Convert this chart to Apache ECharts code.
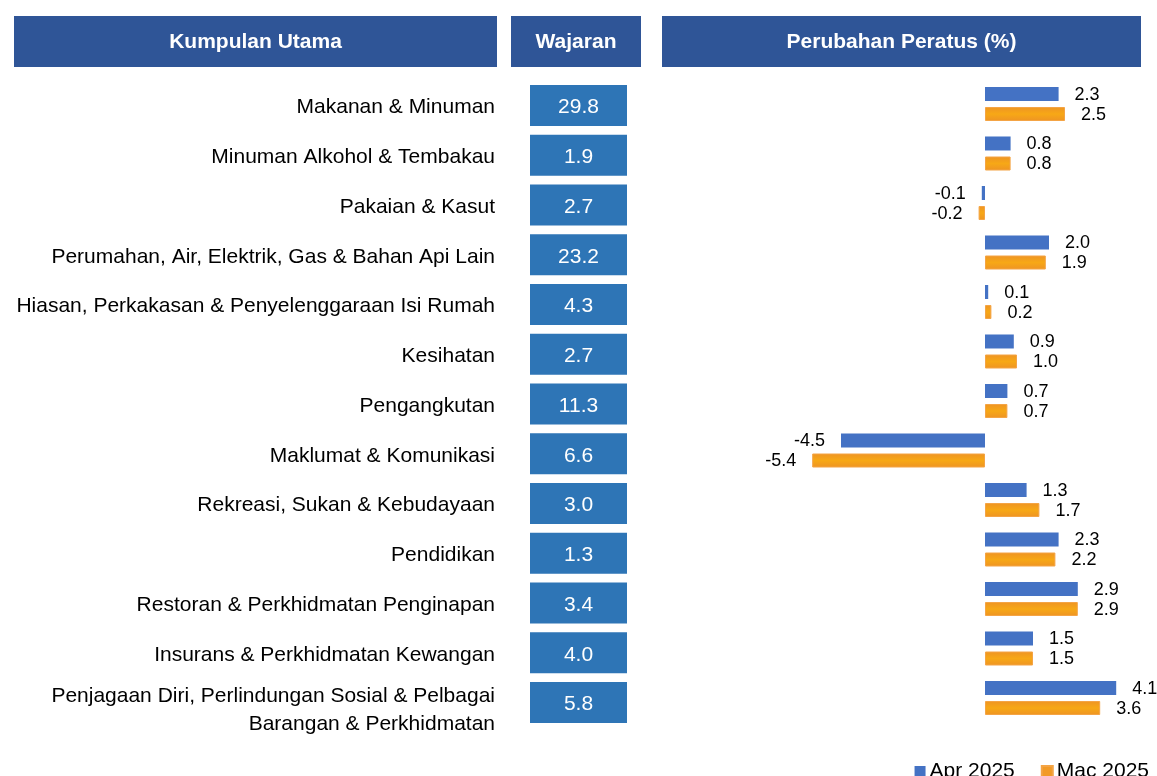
<!DOCTYPE html>
<html>
<head>
<meta charset="utf-8">
<script src="https://cdn.jsdelivr.net/npm/echarts@6/dist/echarts.min.js"></script>
<style>
    html, body { margin: 0; padding: 0; background: #fff; }
    #chart { width: 1157px; height: 776px; }
</style>
</head>
<body>
<div id="chart"></div>
<script>
const categories = [
    'Makanan & Minuman',
    'Minuman Alkohol & Tembakau',
    'Pakaian & Kasut',
    'Perumahan, Air, Elektrik, Gas & Bahan Api Lain',
    'Hiasan, Perkakasan & Penyelenggaraan Isi Rumah',
    'Kesihatan',
    'Pengangkutan',
    'Maklumat & Komunikasi',
    'Rekreasi, Sukan & Kebudayaan',
    'Pendidikan',
    'Restoran & Perkhidmatan Penginapan',
    'Insurans & Perkhidmatan Kewangan',
    'Penjagaan Diri, Perlindungan Sosial & Pelbagai\nBarangan & Perkhidmatan',
]
const weights = [29.8, 1.9, 2.7, 23.2, 4.3, 2.7, 11.3, 6.6, 3.0, 1.3, 3.4, 4.0, 5.8]
const apr2025 = [2.3, 0.8, -0.1, 2.0, 0.1, 0.9, 0.7, -4.5, 1.3, 2.3, 2.9, 1.5, 4.1]
const mac2025 = [2.5, 0.8, -0.2, 1.9, 0.2, 1.0, 0.7, -5.4, 1.7, 2.2, 2.9, 1.5, 3.6]
const seriesNames = ['Apr 2025', 'Mac 2025']
const headers = ['Kumpulan Utama', 'Wajaran', 'Perubahan Peratus (%)']

const FONT = "'Liberation Sans', Arial, sans-serif"
const HEADER_BG = '#2F5597'
const BOX_BG = '#2E75B6'
const BLUE = '#4472C4'
const ORANGE = {
    type: 'linear', x: 0, y: 0, x2: 0, y2: 1,
    colorStops: [
        { offset: 0, color: '#EE9424' },
        { offset: 0.5, color: '#F7A816' },
        { offset: 1, color: '#EE9424' },
    ],
}

const headerBoxes = [
    { x: 14, w: 483 },
    { x: 511, w: 130 },
    { x: 662, w: 479 },
]

const chart = echarts.init(document.getElementById('chart'), null, { renderer: 'canvas' })

const barLabel = v => ({
    position: v < 0 ? 'left' : 'right',
})

// two-line label sits a bit lower in the original: push it down with a thin spacer line
const categoryFormatter = v => v.includes('\n')
    ? '{gap| }\n' + v.split('\n').map(l => '{t|' + l + '}').join('\n')
    : v

chart.setOption({
    backgroundColor: '#fff',
    animation: false,
    textStyle: { fontFamily: FONT },
    graphic: headers.map((h, i) => ({
        type: 'group',
        left: headerBoxes[i].x,
        top: 16,
        children: [
            {
                type: 'rect',
                shape: { x: 0, y: 0, width: headerBoxes[i].w, height: 51 },
                style: { fill: HEADER_BG },
            },
            {
                type: 'text',
                x: headerBoxes[i].w / 2,
                y: 26,
                style: {
                    text: h,
                    fill: '#fff',
                    font: 'bold 21px ' + FONT,
                    align: 'center',
                    verticalAlign: 'middle',
                },
            },
        ],
    })),
    legend: {
        right: 3,
        top: 756,
        icon: 'rect',
        itemWidth: 11,
        itemHeight: 11,
        itemGap: 26,
        textStyle: { fontSize: 21, color: '#000', fontFamily: FONT, padding: [0, 0, 0, -1] },
        data: [
            { name: seriesNames[0], itemStyle: { color: BLUE } },
            { name: seriesNames[1], itemStyle: { color: '#F29A26' } },
        ],
    },
    grid: [
        { left: 530, width: 97, top: 80.6, height: 646.75 },
        { left: 793, width: 352, top: 79.25, height: 643.5 },
    ],
    xAxis: [
        { gridIndex: 0, type: 'value', min: 0, max: 1, show: false },
        { gridIndex: 1, type: 'value', min: -6, max: 5, show: false },
    ],
    yAxis: [
        {
            gridIndex: 0,
            type: 'category',
            inverse: true,
            data: categories,
            axisLine: { show: false },
            axisTick: { show: false },
            splitLine: { show: false },
            axisLabel: {
                interval: 0,
                hideOverlap: false,
                margin: 35,
                fontSize: 21,
                lineHeight: 28,
                color: '#000',
                fontFamily: FONT,
                padding: [4, 0, 0, 0],
                formatter: categoryFormatter,
                rich: {
                    gap: { fontSize: 4, lineHeight: 11 },
                    t: { fontSize: 21, lineHeight: 28, color: '#000', fontFamily: FONT },
                },
            },
        },
        {
            gridIndex: 1,
            type: 'category',
            inverse: true,
            data: categories,
            show: false,
        },
    ],
    series: [
        {
            name: 'Wajaran',
            type: 'bar',
            xAxisIndex: 0,
            yAxisIndex: 0,
            barWidth: 41,
            silent: true,
            itemStyle: { color: BOX_BG },
            data: weights.map(w => ({ value: 1, weight: w })),
            label: {
                show: true,
                position: 'inside',
                offset: [0, 2],
                color: '#fff',
                fontSize: 21,
                fontFamily: FONT,
                formatter: p => p.data.weight.toFixed(1),
            },
        },
        {
            name: seriesNames[0],
            type: 'bar',
            xAxisIndex: 1,
            yAxisIndex: 1,
            barWidth: 14,
            barGap: '43%',
            itemStyle: { color: BLUE },
            data: apr2025.map(v => ({ value: v, label: barLabel(v) })),
            label: {
                show: true,
                distance: 16,
                offset: [0, 1],
                fontSize: 18,
                color: '#000',
                fontFamily: FONT,
                formatter: p => p.value.toFixed(1),
            },
        },
        {
            name: seriesNames[1],
            type: 'bar',
            xAxisIndex: 1,
            yAxisIndex: 1,
            barWidth: 14,
            itemStyle: { color: ORANGE, borderColor: '#F4A445', borderWidth: 1 },
            data: mac2025.map(v => ({ value: v, label: barLabel(v) })),
            label: {
                show: true,
                distance: 16,
                offset: [0, 1],
                fontSize: 18,
                color: '#000',
                fontFamily: FONT,
                formatter: p => p.value.toFixed(1),
            },
        },
    ],
})
</script>
</body>
</html>
